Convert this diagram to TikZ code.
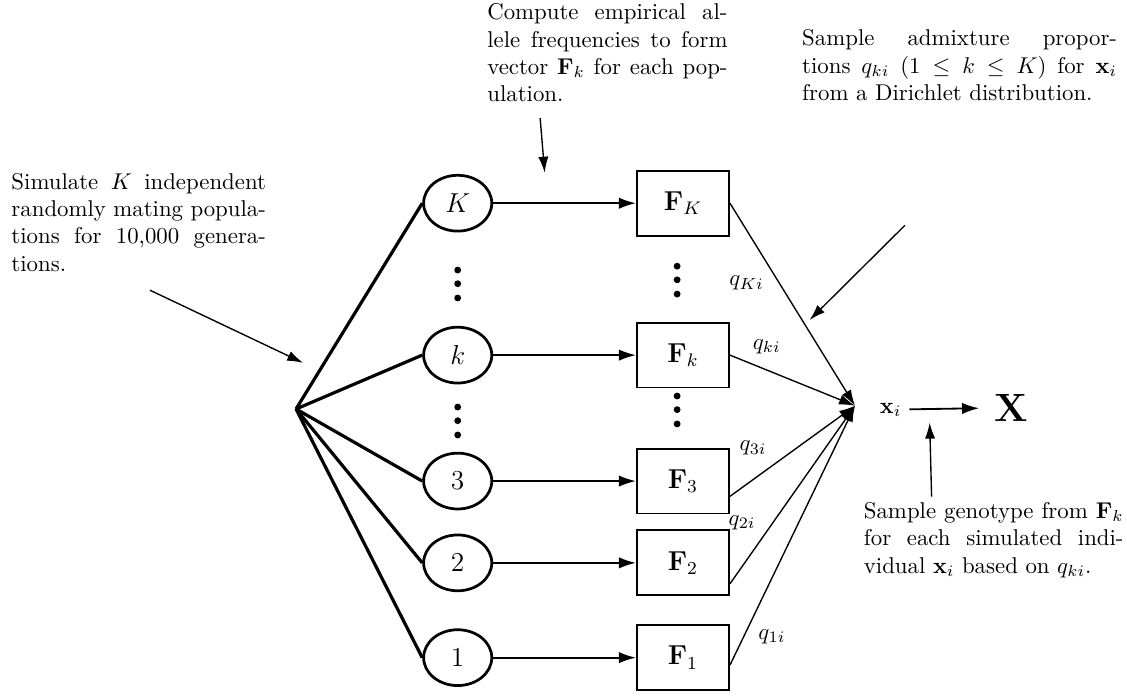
\documentclass[tikz,border=0pt]{standalone}
\usetikzlibrary{positioning, shapes.geometric, arrows.meta}

\begin{document}
\begin{tikzpicture}[
      node distance=2.2cm,
      pop/.style={ellipse, draw, line width=1.2pt, minimum width=1.05cm,
      minimum height=0.86cm, inner sep=0pt, font=\large},
      freq/.style={rectangle, draw, line width=0.8pt, minimum width=1.42cm,
      minimum height=1cm, inner sep=0pt, font=\large},
      note/.style={align=justify, inner sep=0pt, anchor=north west},
      branch/.style={draw, line width=1.4pt},
      line/.style={draw, -{Latex[length=7.5pt, width=5pt]}, line width=0.8pt},
      mix/.style={draw, -{Latex[length=7pt, width=4.5pt]}, line width=0.6pt},
      qlab/.style={inner sep=0pt}
    ]
    \useasboundingbox (0,0) rectangle (17.36,-10.76);

    % populations and frequency vectors
    \coordinate (root) at (4.56,-6.30);
    \node [pop] (popK) at (7.05,-3.13) {$K$};
    \node [pop] (popk) at (7.05,-5.47) {$k$};
    \node [pop] (pop3) at (7.05,-7.41) {$3$};
    \node [pop] (pop2) at (7.05,-8.67) {$2$};
    \node [pop] (pop1) at (7.05,-10.13) {$1$};

    \node [freq, right=of popK] (FK) {$\mathbf{F}_K$};
    \node [freq, right=of popk] (Fk) {$\mathbf{F}_k$};
    \node [freq, right=of pop3] (F3) {$\mathbf{F}_3$};
    \node [freq, right=of pop2] (F2) {$\mathbf{F}_2$};
    \node [freq, right=of pop1] (F1) {$\mathbf{F}_1$};

    \foreach \p in {K,k,3,2,1} {
      \path [branch] (root) -- (pop\p.west);
      \path [line] (pop\p) -- (F\p);
    }

    % vertical dots
    \foreach \y in {-4.16,-4.37,-4.59,-6.27,-6.48,-6.70}
      \fill (7.05,\y) circle (1.5pt);
    \foreach \y in {-4.10,-4.31,-4.53,-6.10,-6.31,-6.53}
      \fill (10.43,\y) circle (1.5pt);

    % admixture into one individual
    \coordinate (conv) at (13.17,-6.25);
    \node (xi) at (13.72,-6.31) {$\mathbf{x}_i$};
    \node (X) at (15.57,-6.28) {\LARGE$\mathbf{X}$};
    \path [mix] (FK.east) -- (conv);
    \path [mix] (Fk.east) -- (conv);
    \path [mix] (F3.-18) -- (conv);
    \path [mix] (F2.-24) -- (conv);
    \path [mix] (F1.-9) -- (conv);
    \path [line, shorten >=3pt] (xi) -- (X);

    \node [qlab] (qK) at (11.50,-4.36) {$q_{Ki}$};
    \node [qlab] (qk) at (11.81,-5.34) {$q_{ki}$};
    \node [qlab] (q3) at (11.60,-6.90) {$q_{3i}$};
    \node [qlab] (q2) at (11.43,-8.05) {$q_{2i}$};
    \node [qlab] (q1) at (11.89,-9.81) {$q_{1i}$};

    % notes
    \node [note, text width=3.92cm] (sim) at (0.17,-2.66) {Simulate $K$
      independent\linebreak randomly mating popula-\linebreak tions for
      10,000 genera-\linebreak tions.};
    \node [note, text width=3.7cm] (comp) at (7.50,-0.05) {Compute
      empirical al-\linebreak lele frequencies to form\linebreak vector
      $\mathbf{F}_k$ for each pop-\linebreak ulation.};
    \node [note, text width=4.85cm] (adm) at (12.35,-0.45) {Sample
      admixture propor-\linebreak tions $q_{ki}$ $(1 \le k \le K)$ for
      $\mathbf{x}_i$\linebreak from a Dirichlet distribution.};
    \node [note, text width=4.0cm] (gen) at (13.30,-7.73) {Sample genotype
      from $\mathbf{F}_k$\linebreak for each simulated indi-\linebreak
      vidual $\mathbf{x}_i$ based on $q_{ki}$.};

    \coordinate (simtail) at (2.31,-4.47);
    \coordinate (simhead) at (4.67,-5.59);
    \coordinate (comptail) at (8.32,-1.82);
    \coordinate (comphead) at (8.39,-2.66);
    \coordinate (admtail) at (13.94,-3.47);
    \coordinate (admhead) at (12.47,-4.93);
    \coordinate (gentail) at (14.35,-7.65);
    \coordinate (genhead) at (14.32,-6.51);
    \path [mix] (simtail) -- (simhead);
    \path [mix] (comptail) -- (comphead);
    \path [mix] (admtail) -- (admhead);
    \path [mix] (gentail) -- (genhead);
  \end{tikzpicture}
\end{document}
